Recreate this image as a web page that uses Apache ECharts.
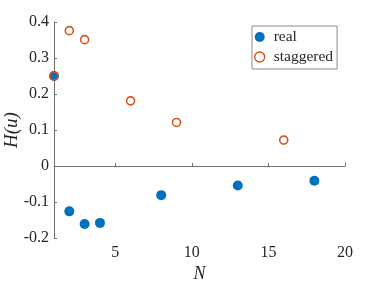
<!DOCTYPE html>
<html><head><meta charset="utf-8">
<script src="https://cdn.jsdelivr.net/npm/echarts@6/dist/echarts.min.js"></script>
<style>html,body{margin:0;padding:0;background:#fff}#c{width:382px;height:286px}</style>
</head><body><div id="c"></div>
<script>
const realN = [1, 2, 3, 4, 8, 13, 18];
const realH = [0.25, -0.126, -0.161, -0.158, -0.081, -0.054, -0.041];
const stagN = [1, 2, 3, 6, 9, 16];
const stagH = [0.25, 0.376, 0.351, 0.181, 0.121, 0.072];
const xTicks = [5, 10, 15, 20];
const FONT = 'Liberation Serif';
const axisCol = '#707070';
const txtCol = '#262626';
const chart = echarts.init(document.getElementById('c'));
chart.setOption({
  animation: false,
  backgroundColor: '#fff',
  grid: {left: 54, right: 37, top: 22, bottom: 48, containLabel: false, outerBoundsMode: 'none'},
  xAxis: {
    type: 'value', min: 1, max: 20,
    name: 'N', nameLocation: 'middle', nameGap: 27, nameMoveOverlap: false,
    nameTextStyle: {fontFamily: FONT, fontSize: 18, fontStyle: 'italic', color: txtCol},
    axisLine: {lineStyle: {color: axisCol, width: 1}},
    axisTick: {inside: true, length: 3, lineStyle: {color: axisCol}, customValues: xTicks},
    axisLabel: {fontFamily: FONT, fontSize: 16, color: txtCol, margin: 7, customValues: xTicks},
    splitLine: {show: false}
  },
  yAxis: {
    type: 'value', min: -0.2, max: 0.4, interval: 0.1,
    name: 'H(u)', nameLocation: 'middle', nameGap: 33, nameRotate: 90, nameMoveOverlap: false,
    nameTextStyle: {fontFamily: FONT, fontSize: 19, fontStyle: 'italic', color: txtCol},
    axisLine: {show: true, lineStyle: {color: axisCol, width: 1}},
    axisTick: {show: true, inside: true, length: 3, lineStyle: {color: axisCol}},
    axisLabel: {fontFamily: FONT, fontSize: 16, color: txtCol, margin: 5,
      formatter: v => String(Number(v.toFixed(1)))},
    splitLine: {show: false}
  },
  legend: {
    left: 252, top: 26, orient: 'vertical',
    backgroundColor: '#fff', borderColor: '#8a8a8a', borderWidth: 1, borderRadius: 0,
    padding: [3, 4, 4, 2], itemGap: 4, itemWidth: 18, itemHeight: 10,
    textStyle: {fontFamily: FONT, fontSize: 15.5, color: txtCol, lineHeight: 14},
    data: ['real', {name: 'staggered', itemStyle: {borderWidth: 1.4}}]
  },
  series: [
    {name: 'real', type: 'scatter', symbol: 'circle', symbolSize: 10,
     itemStyle: {color: '#0072BD', opacity: 1},
     data: realN.map((n, i) => [n, realH[i]])},
    {name: 'staggered', type: 'scatter', symbol: 'circle', symbolSize: 8,
     itemStyle: {color: 'rgba(255,255,255,0)', borderColor: '#D95319', borderWidth: 1.6, opacity: 1},
     data: stagN.map((n, i) => [n, stagH[i]])}
  ]
});
</script></body></html>
